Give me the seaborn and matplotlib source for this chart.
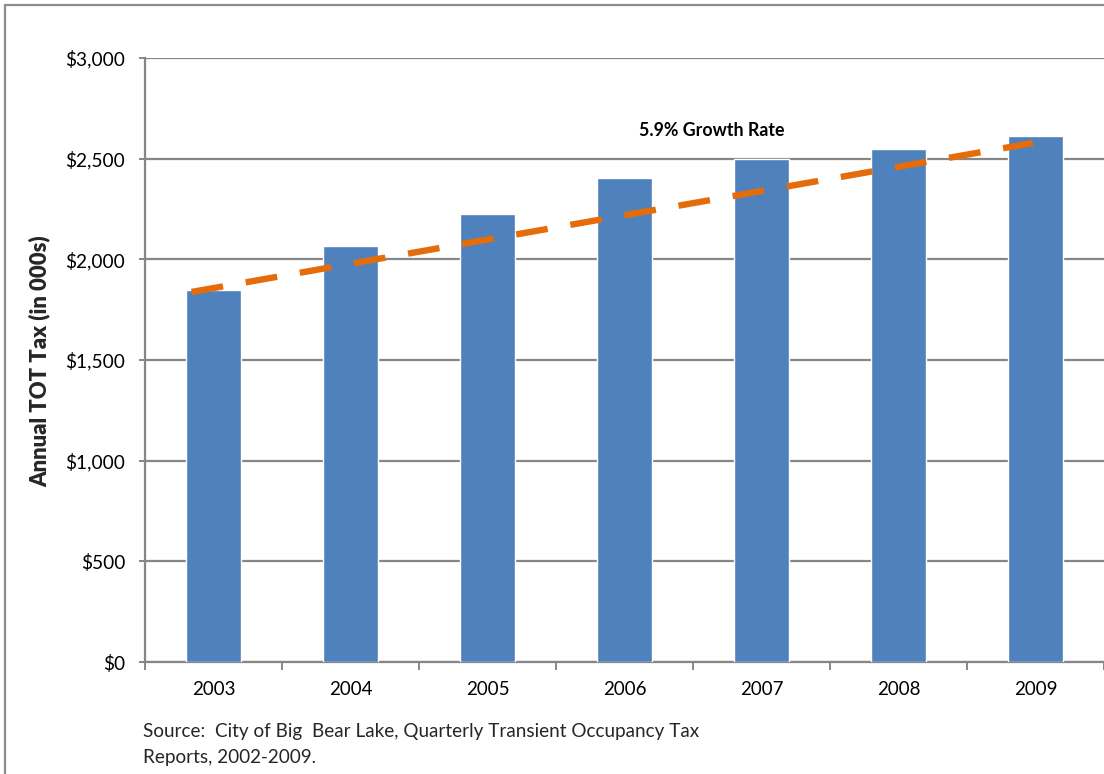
import matplotlib
matplotlib.use("Agg")
import matplotlib.pyplot as plt
from matplotlib.lines import Line2D
from matplotlib.ticker import FixedLocator, FuncFormatter
import seaborn as sns
import pandas as pd

# Annual transient occupancy tax, thousands of dollars
years = ["2003", "2004", "2005", "2006", "2007", "2008", "2009"]
tot_tax = [1848, 2066, 2225, 2404, 2497, 2550, 2611]

# Trend line end values (thousands of dollars)
trend_values = [1838, 2578]
trend_label = "5.9% Growth Rate"

y_ticks = [0, 500, 1000, 1500, 2000, 2500, 3000]
y_title = "Annual TOT Tax (in 000s)"
source_lines = [
    "Source:  City of Big  Bear Lake, Quarterly Transient Occupancy Tax",
    "Reports, 2002-2009.",
]

BAR_COLOR = "#4F81BD"
TREND_COLOR = "#E46C0A"
GRID_COLOR = "#868686"
FONT = ["Lato", "DejaVu Sans"]

sns.set_style("white")
plt.rcParams["font.family"] = FONT

W, H = 1104, 774
fig = plt.figure(figsize=(W / 100, H / 100), dpi=100)
ax = fig.add_axes([145 / W, 112 / H, (W - 145) / W, 604 / H])

df = pd.DataFrame({"year": years, "tax": tot_tax})
sns.barplot(data=df, x="year", y="tax", color=BAR_COLOR, width=0.40,
            saturation=1, ax=ax, zorder=3)

# Dashed trend line across the categories
ax.plot([-0.16, 5.98], trend_values, color=TREND_COLOR, lw=4.6,
        dashes=(5.0, 3.6), solid_capstyle="butt", dash_capstyle="butt", zorder=4)
ax.text(3.64, 2638, trend_label, ha="center", va="center",
        fontsize=12.8, fontweight="bold", color="black")

ax.set_xlim(-0.5, len(years) - 0.5)
ax.set_ylim(0, 3000)
ax.yaxis.set_major_locator(FixedLocator(y_ticks))
ax.yaxis.set_major_formatter(FuncFormatter(lambda v, p: f"${v:,.0f}"))
ax.grid(axis="y", color=GRID_COLOR, lw=1.6, zorder=0)
ax.set_axisbelow(True)

for s in ["top", "right"]:
    ax.spines[s].set_visible(False)
for s in ["left", "bottom"]:
    ax.spines[s].set_color(GRID_COLOR)
    ax.spines[s].set_linewidth(1.6)

ax.set_xlabel("")
ax.set_ylabel("")
ax.tick_params(axis="y", length=4.3, width=1.4, color=GRID_COLOR, pad=10,
               labelsize=13.8, labelcolor="black", left=True)
ax.tick_params(axis="x", which="major", length=0, pad=14, labelsize=13.5,
               labelcolor="black")
ax.set_xticks([i + 0.5 for i in range(-1, len(years))], minor=True)
ax.tick_params(axis="x", which="minor", length=6, width=1.4, color=GRID_COLOR,
               bottom=True)

fig.text(40 / W, 1 - 361 / H, y_title, rotation=90, ha="center", va="center",
         fontsize=15.8, fontweight="heavy")

fig.text(143 / W, 1 - 731 / H, source_lines[0], ha="left", va="center", fontsize=13.6)
fig.text(143 / W, 1 - 757 / H, source_lines[1], ha="left", va="center", fontsize=13.6)

# Outer frame around the chart area
frame = dict(color="#8C8C8C", lw=1.6, transform=fig.transFigure)
fig.add_artist(Line2D([5 / W, 5 / W], [0, 1 - 5 / H], **frame))
fig.add_artist(Line2D([5 / W, 1], [1 - 5 / H, 1 - 5 / H], **frame))

fig.savefig("out.png", dpi=100)
